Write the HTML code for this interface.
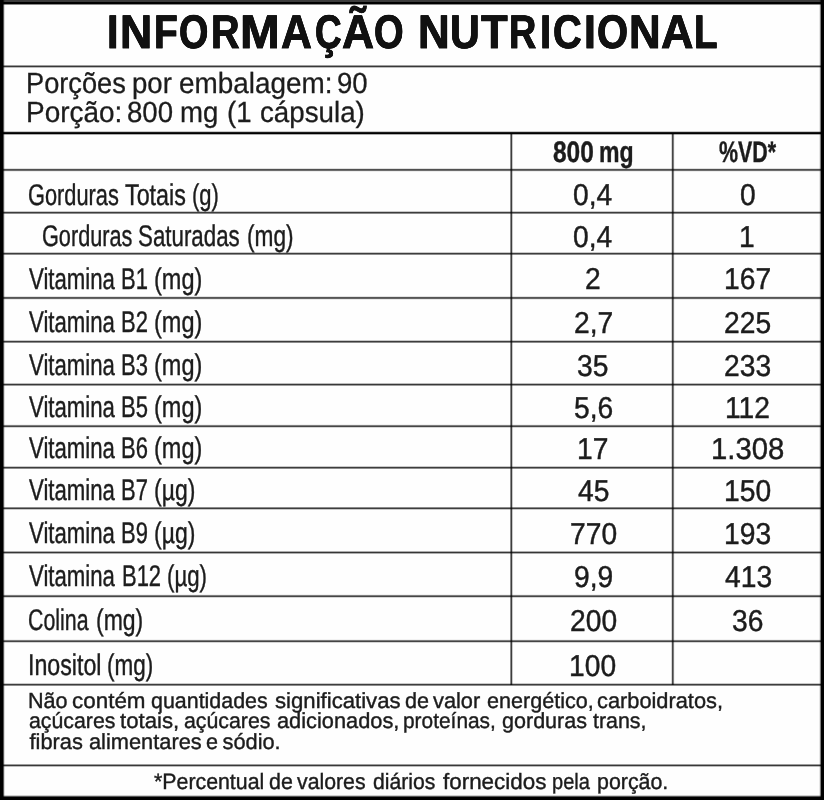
<!DOCTYPE html><html><head><meta charset="utf-8"><title>Informação Nutricional</title><style>
html,body{margin:0;padding:0;background:#fff}
#p{position:relative;width:824px;height:800px;overflow:hidden;background:#fefefe;font-family:"Liberation Sans",sans-serif}
.t{position:absolute;white-space:nowrap;line-height:1;transform-origin:0 0;display:block;text-rendering:geometricPrecision}
.l{position:absolute;mix-blend-mode:multiply}
.hl{left:0;width:824px;height:4px;background:linear-gradient(#9c9c9c 0 1px,#8a8a8a 1px 2px,#5e5e5e 2px 3px,#d0d0d0 3px 4px)}
.hk{left:0;width:824px;height:4px;background:linear-gradient(#d8d8d8 0 1px,#050505 1px 2px,#151515 2px 3px,#8a8a8a 3px 4px)}
.vl{top:134px;height:551px;width:4px;background:linear-gradient(90deg,#c8c8c8 0 1px,#999 1px 2px,#585858 2px 3px,#8c8c8c 3px 4px)}
</style></head><body><div id="p">
<div class="l" style="left:0;width:824px;top:65px;height:3px;background:linear-gradient(rgb(158,158,158) 0px 1px,rgb(56,56,56) 1px 2px,rgb(189,189,189) 2px 3px)"></div>
<div class="l" style="left:0;width:824px;top:131px;height:4px;background:linear-gradient(rgb(202,202,202) 0px 1px,rgb(26,26,26) 1px 2px,rgb(0,0,0) 2px 3px,rgb(173,173,173) 3px 4px)"></div>
<div class="l" style="left:0;width:824px;top:168px;height:4px;background:linear-gradient(rgb(224,224,224) 0px 1px,rgb(80,80,80) 1px 2px,rgb(109,109,109) 2px 3px,rgb(238,238,238) 3px 4px)"></div>
<div class="l" style="left:0;width:824px;top:211px;height:3px;background:linear-gradient(rgb(202,202,202) 0px 1px,rgb(61,61,61) 1px 2px,rgb(141,141,141) 2px 3px)"></div>
<div class="l" style="left:0;width:824px;top:252px;height:3px;background:linear-gradient(rgb(202,202,202) 0px 1px,rgb(61,61,61) 1px 2px,rgb(141,141,141) 2px 3px)"></div>
<div class="l" style="left:0;width:824px;top:296px;height:4px;background:linear-gradient(rgb(228,228,228) 0px 1px,rgb(86,86,86) 1px 2px,rgb(101,101,101) 2px 3px,rgb(235,235,235) 3px 4px)"></div>
<div class="l" style="left:0;width:824px;top:340px;height:3px;background:linear-gradient(rgb(202,202,202) 0px 1px,rgb(61,61,61) 1px 2px,rgb(141,141,141) 2px 3px)"></div>
<div class="l" style="left:0;width:824px;top:383px;height:3px;background:linear-gradient(rgb(189,189,189) 0px 1px,rgb(56,56,56) 1px 2px,rgb(158,158,158) 2px 3px)"></div>
<div class="l" style="left:0;width:824px;top:424px;height:4px;background:linear-gradient(rgb(243,243,243) 0px 1px,rgb(125,125,125) 1px 2px,rgb(69,69,69) 2px 3px,rgb(214,214,214) 3px 4px)"></div>
<div class="l" style="left:0;width:824px;top:466px;height:3px;background:linear-gradient(rgb(202,202,202) 0px 1px,rgb(61,61,61) 1px 2px,rgb(141,141,141) 2px 3px)"></div>
<div class="l" style="left:0;width:824px;top:507px;height:3px;background:linear-gradient(rgb(141,141,141) 0px 1px,rgb(61,61,61) 1px 2px,rgb(202,202,202) 2px 3px)"></div>
<div class="l" style="left:0;width:824px;top:551px;height:3px;background:linear-gradient(rgb(174,174,174) 0px 1px,rgb(54,54,54) 1px 2px,rgb(174,174,174) 2px 3px)"></div>
<div class="l" style="left:0;width:824px;top:594px;height:4px;background:linear-gradient(rgb(243,243,243) 0px 1px,rgb(125,125,125) 1px 2px,rgb(69,69,69) 2px 3px,rgb(214,214,214) 3px 4px)"></div>
<div class="l" style="left:0;width:824px;top:639px;height:4px;background:linear-gradient(rgb(243,243,243) 0px 1px,rgb(125,125,125) 1px 2px,rgb(69,69,69) 2px 3px,rgb(214,214,214) 3px 4px)"></div>
<div class="l" style="left:0;width:824px;top:683px;height:3px;background:linear-gradient(rgb(202,202,202) 0px 1px,rgb(61,61,61) 1px 2px,rgb(141,141,141) 2px 3px)"></div>
<div class="l" style="left:0;width:824px;top:764px;height:3px;background:linear-gradient(rgb(158,158,158) 0px 1px,rgb(56,56,56) 1px 2px,rgb(189,189,189) 2px 3px)"></div>
<div class="l" style="top:134px;height:551px;left:510px;width:3px;background:linear-gradient(90deg,rgb(141,141,141) 0px 1px,rgb(61,61,61) 1px 2px,rgb(202,202,202) 2px 3px)"></div>
<div class="l" style="top:134px;height:551px;left:671px;width:4px;background:linear-gradient(90deg,rgb(214,214,214) 0px 1px,rgb(69,69,69) 1px 2px,rgb(125,125,125) 2px 3px,rgb(243,243,243) 3px 4px)"></div>
<div class="l" style="left:0;top:0;width:824px;height:5px;background:linear-gradient(#3c3c3c 0 2px,#000 2px 4px,#8a8a8a 4px 5px)"></div>
<div class="l" style="left:0;top:795px;width:824px;height:5px;background:linear-gradient(#d0d0d0 0 1px,#555 1px 2px,#000 2px 5px)"></div>
<div class="l" style="left:0;top:0;width:5px;height:800px;background:linear-gradient(90deg,#000 0 3px,#555 3px 4px,#ddd 4px 5px)"></div>
<div class="l" style="left:819px;top:0;width:5px;height:800px;background:linear-gradient(90deg,#e8e8e8 0 1px,#808080 1px 2px,#000 2px 5px)"></div>
<div id="tx" style="position:absolute;left:0;top:0;width:824px;height:800px;filter:blur(0.45px)">
<div class="t" id="t0" style="left:107.30px;top:8.65px;font-size:47.2px;font-weight:700;color:#111;transform:scaleX(0.8828);-webkit-text-stroke:0.8px #111;text-shadow:0.3px 0 0 #111,-0.3px 0 0 #111">I</div>
<div class="t" id="t1" style="left:119.63px;top:8.65px;font-size:47.2px;font-weight:700;color:#111;transform:scaleX(0.9453);-webkit-text-stroke:0.8px #111;text-shadow:0.3px 0 0 #111,-0.3px 0 0 #111">N</div>
<div class="t" id="t2" style="left:153.91px;top:8.65px;font-size:47.2px;font-weight:700;color:#111;transform:scaleX(0.8254);-webkit-text-stroke:0.8px #111;text-shadow:0.3px 0 0 #111,-0.3px 0 0 #111">F</div>
<div class="t" id="t3" style="left:179.35px;top:8.65px;font-size:47.2px;font-weight:700;color:#111;transform:scaleX(0.8003);-webkit-text-stroke:0.8px #111;text-shadow:0.3px 0 0 #111,-0.3px 0 0 #111">O</div>
<div class="t" id="t4" style="left:211.48px;top:8.65px;font-size:47.2px;font-weight:700;color:#111;transform:scaleX(0.8387);-webkit-text-stroke:0.8px #111;text-shadow:0.3px 0 0 #111,-0.3px 0 0 #111">R</div>
<div class="t" id="t5" style="left:239.96px;top:8.65px;font-size:47.2px;font-weight:700;color:#111;transform:scaleX(1.0121);-webkit-text-stroke:0.8px #111;text-shadow:0.3px 0 0 #111,-0.3px 0 0 #111">M</div>
<div class="t" id="t6" style="left:281.09px;top:8.65px;font-size:47.2px;font-weight:700;color:#111;transform:scaleX(0.9062);-webkit-text-stroke:0.8px #111;text-shadow:0.3px 0 0 #111,-0.3px 0 0 #111">A</div>
<div class="t" id="t7" style="left:314.81px;top:8.65px;font-size:47.2px;font-weight:700;color:#111;transform:scaleX(0.7819);-webkit-text-stroke:0.8px #111;text-shadow:0.3px 0 0 #111,-0.3px 0 0 #111">Ç</div>
<div class="t" id="t8" style="left:341.51px;top:8.65px;font-size:47.2px;font-weight:700;color:#111;transform:scaleX(0.9404);-webkit-text-stroke:0.8px #111;text-shadow:0.3px 0 0 #111,-0.3px 0 0 #111">Ã</div>
<div class="t" id="t9" style="left:374.31px;top:8.65px;font-size:47.2px;font-weight:700;color:#111;transform:scaleX(0.8066);-webkit-text-stroke:0.8px #111;text-shadow:0.3px 0 0 #111,-0.3px 0 0 #111">O</div>
<div class="t" id="t10" style="left:417.67px;top:8.65px;font-size:47.2px;font-weight:700;color:#111;transform:scaleX(0.9317);-webkit-text-stroke:0.8px #111;text-shadow:0.3px 0 0 #111,-0.3px 0 0 #111">N</div>
<div class="t" id="t11" style="left:449.72px;top:8.65px;font-size:47.2px;font-weight:700;color:#111;transform:scaleX(0.8739);-webkit-text-stroke:0.8px #111;text-shadow:0.3px 0 0 #111,-0.3px 0 0 #111">U</div>
<div class="t" id="t12" style="left:481.49px;top:8.65px;font-size:47.2px;font-weight:700;color:#111;transform:scaleX(0.9246);-webkit-text-stroke:0.8px #111;text-shadow:0.3px 0 0 #111,-0.3px 0 0 #111">T</div>
<div class="t" id="t13" style="left:509.44px;top:8.65px;font-size:47.2px;font-weight:700;color:#111;transform:scaleX(0.8005);-webkit-text-stroke:0.8px #111;text-shadow:0.3px 0 0 #111,-0.3px 0 0 #111">R</div>
<div class="t" id="t14" style="left:539.85px;top:8.65px;font-size:47.2px;font-weight:700;color:#111;transform:scaleX(0.8569);-webkit-text-stroke:0.8px #111;text-shadow:0.3px 0 0 #111,-0.3px 0 0 #111">I</div>
<div class="t" id="t15" style="left:552.72px;top:8.65px;font-size:47.2px;font-weight:700;color:#111;transform:scaleX(0.8443);-webkit-text-stroke:0.8px #111;text-shadow:0.3px 0 0 #111,-0.3px 0 0 #111">C</div>
<div class="t" id="t16" style="left:583.72px;top:8.65px;font-size:47.2px;font-weight:700;color:#111;transform:scaleX(0.9056);-webkit-text-stroke:0.8px #111;text-shadow:0.3px 0 0 #111,-0.3px 0 0 #111">I</div>
<div class="t" id="t17" style="left:597.20px;top:8.65px;font-size:47.2px;font-weight:700;color:#111;transform:scaleX(0.8474);-webkit-text-stroke:0.8px #111;text-shadow:0.3px 0 0 #111,-0.3px 0 0 #111">O</div>
<div class="t" id="t18" style="left:628.70px;top:8.65px;font-size:47.2px;font-weight:700;color:#111;transform:scaleX(0.9310);-webkit-text-stroke:0.8px #111;text-shadow:0.3px 0 0 #111,-0.3px 0 0 #111">N</div>
<div class="t" id="t19" style="left:660.52px;top:8.65px;font-size:47.2px;font-weight:700;color:#111;transform:scaleX(0.9523);-webkit-text-stroke:0.8px #111;text-shadow:0.3px 0 0 #111,-0.3px 0 0 #111">A</div>
<div class="t" id="t20" style="left:693.95px;top:8.65px;font-size:47.2px;font-weight:700;color:#111;transform:scaleX(0.8160);-webkit-text-stroke:0.8px #111;text-shadow:0.3px 0 0 #111,-0.3px 0 0 #111">L</div>
<div class="t" id="i1_0" style="left:26.13px;top:70.40px;font-size:29.2px;font-weight:400;color:#1c1c1c;transform:scaleX(0.9327);-webkit-text-stroke:0.3px #1c1c1c">Porções</div>
<div class="t" id="i1_1" style="left:131.50px;top:70.40px;font-size:29.2px;font-weight:400;color:#1c1c1c;transform:scaleX(0.9450);-webkit-text-stroke:0.3px #1c1c1c">por</div>
<div class="t" id="i1_2" style="left:179.04px;top:70.40px;font-size:29.2px;font-weight:400;color:#1c1c1c;transform:scaleX(0.9554);-webkit-text-stroke:0.3px #1c1c1c">embalagem:</div>
<div class="t" id="i1_3" style="left:336.75px;top:70.40px;font-size:29.2px;font-weight:400;color:#1c1c1c;transform:scaleX(0.9450);-webkit-text-stroke:0.3px #1c1c1c">90</div>
<div class="t" id="i2_0" style="left:26.08px;top:99.29px;font-size:29.2px;font-weight:400;color:#1c1c1c;transform:scaleX(0.9583);-webkit-text-stroke:0.3px #1c1c1c">Porção:</div>
<div class="t" id="i2_1" style="left:127.38px;top:99.29px;font-size:29.2px;font-weight:400;color:#1c1c1c;transform:scaleX(0.9450);-webkit-text-stroke:0.3px #1c1c1c">800</div>
<div class="t" id="i2_2" style="left:179.62px;top:99.29px;font-size:29.2px;font-weight:400;color:#1c1c1c;transform:scaleX(0.9450);-webkit-text-stroke:0.3px #1c1c1c">mg</div>
<div class="t" id="i2_3" style="left:227.12px;top:99.29px;font-size:29.2px;font-weight:400;color:#1c1c1c;transform:scaleX(0.9450);-webkit-text-stroke:0.3px #1c1c1c">(1</div>
<div class="t" id="i2_4" style="left:260.29px;top:99.29px;font-size:29.2px;font-weight:400;color:#1c1c1c;transform:scaleX(0.9500);-webkit-text-stroke:0.3px #1c1c1c">cápsula)</div>
<div class="t" id="h1_0" style="left:552.59px;top:137.87px;font-size:29.7px;font-weight:700;color:#1c1c1c;transform:scaleX(0.8252);-webkit-text-stroke:0.4px #1c1c1c">800</div>
<div class="t" id="h1_1" style="left:599.40px;top:137.87px;font-size:29.7px;font-weight:700;color:#1c1c1c;transform:scaleX(0.7759);-webkit-text-stroke:0.4px #1c1c1c">mg</div>
<div class="t" id="h2" style="left:718.69px;top:137.87px;font-size:29.7px;font-weight:700;color:#1c1c1c;transform:scaleX(0.7215);-webkit-text-stroke:0.4px #1c1c1c">%VD*</div>
<div class="t" id="l0_0" style="left:28.21px;top:181.29px;font-size:29.9px;font-weight:400;color:#1c1c1c;transform:scaleX(0.7285);-webkit-text-stroke:0.42px #1c1c1c">Gorduras</div>
<div class="t" id="l0_1" style="left:125.00px;top:181.29px;font-size:29.9px;font-weight:400;color:#1c1c1c;transform:scaleX(0.7792);-webkit-text-stroke:0.42px #1c1c1c">Totais</div>
<div class="t" id="l0_2" style="left:191.75px;top:181.29px;font-size:29.9px;font-weight:400;color:#1c1c1c;transform:scaleX(0.7350);-webkit-text-stroke:0.42px #1c1c1c">(g)</div>
<div class="t" id="a0" style="left:572.50px;top:181.07px;font-size:30.2px;font-weight:400;color:#1c1c1c;transform:scaleX(0.9350);-webkit-text-stroke:0.45px #1c1c1c">0,4</div>
<div class="t" id="b0" style="left:739.50px;top:181.07px;font-size:30.2px;font-weight:400;color:#1c1c1c;transform:scaleX(0.9350);-webkit-text-stroke:0.45px #1c1c1c">0</div>
<div class="t" id="l1_0" style="left:42.22px;top:221.59px;font-size:29.9px;font-weight:400;color:#1c1c1c;transform:scaleX(0.7252);-webkit-text-stroke:0.42px #1c1c1c">Gorduras</div>
<div class="t" id="l1_1" style="left:138.07px;top:221.59px;font-size:29.9px;font-weight:400;color:#1c1c1c;transform:scaleX(0.7463);-webkit-text-stroke:0.42px #1c1c1c">Saturadas</div>
<div class="t" id="l1_2" style="left:246.85px;top:221.59px;font-size:29.9px;font-weight:400;color:#1c1c1c;transform:scaleX(0.7588);-webkit-text-stroke:0.42px #1c1c1c">(mg)</div>
<div class="t" id="a1" style="left:572.50px;top:223.07px;font-size:30.2px;font-weight:400;color:#1c1c1c;transform:scaleX(0.9350);-webkit-text-stroke:0.45px #1c1c1c">0,4</div>
<div class="t" id="b1" style="left:738.50px;top:223.07px;font-size:30.2px;font-weight:400;color:#1c1c1c;transform:scaleX(0.9350);-webkit-text-stroke:0.45px #1c1c1c">1</div>
<div class="t" id="l2_0" style="left:28.90px;top:265.39px;font-size:29.9px;font-weight:400;color:#1c1c1c;transform:scaleX(0.7419);-webkit-text-stroke:0.42px #1c1c1c">Vitamina</div>
<div class="t" id="l2_1" style="left:120.50px;top:265.39px;font-size:29.9px;font-weight:400;color:#1c1c1c;transform:scaleX(0.7350);-webkit-text-stroke:0.42px #1c1c1c">B1</div>
<div class="t" id="l2_2" style="left:154.29px;top:265.39px;font-size:29.9px;font-weight:400;color:#1c1c1c;transform:scaleX(0.7866);-webkit-text-stroke:0.42px #1c1c1c">(mg)</div>
<div class="t" id="a2" style="left:584.50px;top:265.37px;font-size:30.2px;font-weight:400;color:#1c1c1c;transform:scaleX(0.9350);-webkit-text-stroke:0.45px #1c1c1c">2</div>
<div class="t" id="b2" style="left:723.50px;top:265.37px;font-size:30.2px;font-weight:400;color:#1c1c1c;transform:scaleX(0.9350);-webkit-text-stroke:0.45px #1c1c1c">167</div>
<div class="t" id="l3_0" style="left:28.90px;top:307.99px;font-size:29.9px;font-weight:400;color:#1c1c1c;transform:scaleX(0.7419);-webkit-text-stroke:0.42px #1c1c1c">Vitamina</div>
<div class="t" id="l3_1" style="left:120.50px;top:307.99px;font-size:29.9px;font-weight:400;color:#1c1c1c;transform:scaleX(0.7350);-webkit-text-stroke:0.42px #1c1c1c">B2</div>
<div class="t" id="l3_2" style="left:154.29px;top:307.99px;font-size:29.9px;font-weight:400;color:#1c1c1c;transform:scaleX(0.7866);-webkit-text-stroke:0.42px #1c1c1c">(mg)</div>
<div class="t" id="a3" style="left:573.50px;top:309.27px;font-size:30.2px;font-weight:400;color:#1c1c1c;transform:scaleX(0.9350);-webkit-text-stroke:0.45px #1c1c1c">2,7</div>
<div class="t" id="b3" style="left:723.50px;top:309.27px;font-size:30.2px;font-weight:400;color:#1c1c1c;transform:scaleX(0.9350);-webkit-text-stroke:0.45px #1c1c1c">225</div>
<div class="t" id="l4_0" style="left:28.90px;top:350.99px;font-size:29.9px;font-weight:400;color:#1c1c1c;transform:scaleX(0.7419);-webkit-text-stroke:0.42px #1c1c1c">Vitamina</div>
<div class="t" id="l4_1" style="left:120.50px;top:350.99px;font-size:29.9px;font-weight:400;color:#1c1c1c;transform:scaleX(0.7350);-webkit-text-stroke:0.42px #1c1c1c">B3</div>
<div class="t" id="l4_2" style="left:154.29px;top:350.99px;font-size:29.9px;font-weight:400;color:#1c1c1c;transform:scaleX(0.7866);-webkit-text-stroke:0.42px #1c1c1c">(mg)</div>
<div class="t" id="a4" style="left:576.50px;top:352.07px;font-size:30.2px;font-weight:400;color:#1c1c1c;transform:scaleX(0.9350);-webkit-text-stroke:0.45px #1c1c1c">35</div>
<div class="t" id="b4" style="left:723.50px;top:352.07px;font-size:30.2px;font-weight:400;color:#1c1c1c;transform:scaleX(0.9350);-webkit-text-stroke:0.45px #1c1c1c">233</div>
<div class="t" id="l5_0" style="left:28.90px;top:393.29px;font-size:29.9px;font-weight:400;color:#1c1c1c;transform:scaleX(0.7419);-webkit-text-stroke:0.42px #1c1c1c">Vitamina</div>
<div class="t" id="l5_1" style="left:120.50px;top:393.29px;font-size:29.9px;font-weight:400;color:#1c1c1c;transform:scaleX(0.7350);-webkit-text-stroke:0.42px #1c1c1c">B5</div>
<div class="t" id="l5_2" style="left:154.29px;top:393.29px;font-size:29.9px;font-weight:400;color:#1c1c1c;transform:scaleX(0.7866);-webkit-text-stroke:0.42px #1c1c1c">(mg)</div>
<div class="t" id="a5" style="left:573.50px;top:393.87px;font-size:30.2px;font-weight:400;color:#1c1c1c;transform:scaleX(0.9350);-webkit-text-stroke:0.45px #1c1c1c">5,6</div>
<div class="t" id="b5" style="left:724.50px;top:393.87px;font-size:30.2px;font-weight:400;color:#1c1c1c;transform:scaleX(0.9350);-webkit-text-stroke:0.45px #1c1c1c">112</div>
<div class="t" id="l6_0" style="left:28.90px;top:434.29px;font-size:29.9px;font-weight:400;color:#1c1c1c;transform:scaleX(0.7419);-webkit-text-stroke:0.42px #1c1c1c">Vitamina</div>
<div class="t" id="l6_1" style="left:120.50px;top:434.29px;font-size:29.9px;font-weight:400;color:#1c1c1c;transform:scaleX(0.7350);-webkit-text-stroke:0.42px #1c1c1c">B6</div>
<div class="t" id="l6_2" style="left:154.29px;top:434.29px;font-size:29.9px;font-weight:400;color:#1c1c1c;transform:scaleX(0.7866);-webkit-text-stroke:0.42px #1c1c1c">(mg)</div>
<div class="t" id="a6" style="left:576.50px;top:435.47px;font-size:30.2px;font-weight:400;color:#1c1c1c;transform:scaleX(0.9350);-webkit-text-stroke:0.45px #1c1c1c">17</div>
<div class="t" id="b6" style="left:710.55px;top:435.47px;font-size:30.2px;font-weight:400;color:#1c1c1c;transform:scaleX(0.9699);-webkit-text-stroke:0.45px #1c1c1c">1.308</div>
<div class="t" id="l7_0" style="left:28.90px;top:475.59px;font-size:29.9px;font-weight:400;color:#1c1c1c;transform:scaleX(0.7419);-webkit-text-stroke:0.42px #1c1c1c">Vitamina</div>
<div class="t" id="l7_1" style="left:120.50px;top:475.59px;font-size:29.9px;font-weight:400;color:#1c1c1c;transform:scaleX(0.7350);-webkit-text-stroke:0.42px #1c1c1c">B7</div>
<div class="t" id="l7_2" style="left:154.32px;top:475.59px;font-size:29.9px;font-weight:400;color:#1c1c1c;transform:scaleX(0.7689);-webkit-text-stroke:0.42px #1c1c1c">(µg)</div>
<div class="t" id="a7" style="left:577.50px;top:477.37px;font-size:30.2px;font-weight:400;color:#1c1c1c;transform:scaleX(0.9350);-webkit-text-stroke:0.45px #1c1c1c">45</div>
<div class="t" id="b7" style="left:723.50px;top:477.37px;font-size:30.2px;font-weight:400;color:#1c1c1c;transform:scaleX(0.9350);-webkit-text-stroke:0.45px #1c1c1c">150</div>
<div class="t" id="l8_0" style="left:28.90px;top:518.59px;font-size:29.9px;font-weight:400;color:#1c1c1c;transform:scaleX(0.7419);-webkit-text-stroke:0.42px #1c1c1c">Vitamina</div>
<div class="t" id="l8_1" style="left:120.50px;top:518.59px;font-size:29.9px;font-weight:400;color:#1c1c1c;transform:scaleX(0.7350);-webkit-text-stroke:0.42px #1c1c1c">B9</div>
<div class="t" id="l8_2" style="left:154.32px;top:518.59px;font-size:29.9px;font-weight:400;color:#1c1c1c;transform:scaleX(0.7689);-webkit-text-stroke:0.42px #1c1c1c">(µg)</div>
<div class="t" id="a8" style="left:569.50px;top:520.17px;font-size:30.2px;font-weight:400;color:#1c1c1c;transform:scaleX(0.9350);-webkit-text-stroke:0.45px #1c1c1c">770</div>
<div class="t" id="b8" style="left:723.50px;top:520.17px;font-size:30.2px;font-weight:400;color:#1c1c1c;transform:scaleX(0.9350);-webkit-text-stroke:0.45px #1c1c1c">193</div>
<div class="t" id="l9_0" style="left:28.90px;top:562.49px;font-size:29.9px;font-weight:400;color:#1c1c1c;transform:scaleX(0.7419);-webkit-text-stroke:0.42px #1c1c1c">Vitamina</div>
<div class="t" id="l9_1" style="left:121.50px;top:562.49px;font-size:29.9px;font-weight:400;color:#1c1c1c;transform:scaleX(0.7350);-webkit-text-stroke:0.42px #1c1c1c">B12</div>
<div class="t" id="l9_2" style="left:167.48px;top:562.49px;font-size:29.9px;font-weight:400;color:#1c1c1c;transform:scaleX(0.7446);-webkit-text-stroke:0.42px #1c1c1c">(µg)</div>
<div class="t" id="a9" style="left:573.50px;top:562.57px;font-size:30.2px;font-weight:400;color:#1c1c1c;transform:scaleX(0.9350);-webkit-text-stroke:0.45px #1c1c1c">9,9</div>
<div class="t" id="b9" style="left:724.50px;top:562.57px;font-size:30.2px;font-weight:400;color:#1c1c1c;transform:scaleX(0.9350);-webkit-text-stroke:0.45px #1c1c1c">413</div>
<div class="t" id="l10_0" style="left:28.23px;top:605.99px;font-size:29.9px;font-weight:400;color:#1c1c1c;transform:scaleX(0.7143);-webkit-text-stroke:0.42px #1c1c1c">Colina</div>
<div class="t" id="l10_1" style="left:96.41px;top:605.99px;font-size:29.9px;font-weight:400;color:#1c1c1c;transform:scaleX(0.7692);-webkit-text-stroke:0.42px #1c1c1c">(mg)</div>
<div class="t" id="a10" style="left:569.50px;top:606.67px;font-size:30.2px;font-weight:400;color:#1c1c1c;transform:scaleX(0.9350);-webkit-text-stroke:0.45px #1c1c1c">200</div>
<div class="t" id="b10" style="left:731.50px;top:606.67px;font-size:30.2px;font-weight:400;color:#1c1c1c;transform:scaleX(0.9350);-webkit-text-stroke:0.45px #1c1c1c">36</div>
<div class="t" id="l11_0" style="left:28.02px;top:651.39px;font-size:29.9px;font-weight:400;color:#1c1c1c;transform:scaleX(0.7759);-webkit-text-stroke:0.42px #1c1c1c">Inositol</div>
<div class="t" id="l11_1" style="left:107.36px;top:651.39px;font-size:29.9px;font-weight:400;color:#1c1c1c;transform:scaleX(0.7520);-webkit-text-stroke:0.42px #1c1c1c">(mg)</div>
<div class="t" id="a11" style="left:568.50px;top:652.07px;font-size:30.2px;font-weight:400;color:#1c1c1c;transform:scaleX(0.9350);-webkit-text-stroke:0.45px #1c1c1c">100</div>
<div class="t" id="f1_0" style="left:27.62px;top:689.85px;font-size:21.8px;font-weight:400;color:#1c1c1c;transform:scaleX(0.9900);-webkit-text-stroke:0.4px #1c1c1c">Não</div>
<div class="t" id="f1_1" style="left:71.97px;top:689.85px;font-size:21.8px;font-weight:400;color:#1c1c1c;transform:scaleX(1.0291);-webkit-text-stroke:0.4px #1c1c1c">contém</div>
<div class="t" id="f1_2" style="left:151.02px;top:689.85px;font-size:21.8px;font-weight:400;color:#1c1c1c;transform:scaleX(0.9829);-webkit-text-stroke:0.4px #1c1c1c">quantidades</div>
<div class="t" id="f1_3" style="left:275.00px;top:689.85px;font-size:21.8px;font-weight:400;color:#1c1c1c;transform:scaleX(1.0163);-webkit-text-stroke:0.4px #1c1c1c">significativas</div>
<div class="t" id="f1_4" style="left:405.00px;top:689.85px;font-size:21.8px;font-weight:400;color:#1c1c1c;transform:scaleX(0.9900);-webkit-text-stroke:0.4px #1c1c1c">de</div>
<div class="t" id="f1_5" style="left:433.00px;top:689.85px;font-size:21.8px;font-weight:400;color:#1c1c1c;transform:scaleX(1.0000);-webkit-text-stroke:0.4px #1c1c1c">valor</div>
<div class="t" id="f1_6" style="left:486.50px;top:689.85px;font-size:21.8px;font-weight:400;color:#1c1c1c;transform:scaleX(0.9907);-webkit-text-stroke:0.4px #1c1c1c">energético,</div>
<div class="t" id="f1_7" style="left:597.00px;top:689.85px;font-size:21.8px;font-weight:400;color:#1c1c1c;transform:scaleX(1.0000);-webkit-text-stroke:0.4px #1c1c1c">carboidratos,</div>
<div class="t" id="f2_0" style="left:28.51px;top:710.05px;font-size:21.8px;font-weight:400;color:#1c1c1c;transform:scaleX(0.9770);-webkit-text-stroke:0.4px #1c1c1c">açúcares</div>
<div class="t" id="f2_1" style="left:120.48px;top:710.05px;font-size:21.8px;font-weight:400;color:#1c1c1c;transform:scaleX(1.0182);-webkit-text-stroke:0.4px #1c1c1c">totais,</div>
<div class="t" id="f2_2" style="left:184.02px;top:710.05px;font-size:21.8px;font-weight:400;color:#1c1c1c;transform:scaleX(0.9771);-webkit-text-stroke:0.4px #1c1c1c">açúcares</div>
<div class="t" id="f2_3" style="left:277.00px;top:710.05px;font-size:21.8px;font-weight:400;color:#1c1c1c;transform:scaleX(1.0000);-webkit-text-stroke:0.4px #1c1c1c">adicionados,</div>
<div class="t" id="f2_4" style="left:403.04px;top:710.05px;font-size:21.8px;font-weight:400;color:#1c1c1c;transform:scaleX(0.9580);-webkit-text-stroke:0.4px #1c1c1c">proteínas,</div>
<div class="t" id="f2_5" style="left:502.01px;top:710.05px;font-size:21.8px;font-weight:400;color:#1c1c1c;transform:scaleX(0.9883);-webkit-text-stroke:0.4px #1c1c1c">gorduras</div>
<div class="t" id="f2_6" style="left:593.00px;top:710.05px;font-size:21.8px;font-weight:400;color:#1c1c1c;transform:scaleX(0.9813);-webkit-text-stroke:0.4px #1c1c1c">trans,</div>
<div class="t" id="f3_0" style="left:29.50px;top:731.16px;font-size:21.8px;font-weight:400;color:#1c1c1c;transform:scaleX(1.0000);-webkit-text-stroke:0.4px #1c1c1c">fibras</div>
<div class="t" id="f3_1" style="left:88.50px;top:731.16px;font-size:21.8px;font-weight:400;color:#1c1c1c;transform:scaleX(1.0001);-webkit-text-stroke:0.4px #1c1c1c">alimentares</div>
<div class="t" id="f3_2" style="left:205.62px;top:731.16px;font-size:21.8px;font-weight:400;color:#1c1c1c;transform:scaleX(0.9900);-webkit-text-stroke:0.4px #1c1c1c">e</div>
<div class="t" id="f3_3" style="left:222.50px;top:731.16px;font-size:21.8px;font-weight:400;color:#1c1c1c;transform:scaleX(1.0000);-webkit-text-stroke:0.4px #1c1c1c">sódio.</div>
<div class="t" id="f4_0" style="left:154.01px;top:770.51px;font-size:22.2px;font-weight:400;color:#1c1c1c;transform:scaleX(0.9611);-webkit-text-stroke:0.4px #1c1c1c">*Percentual</div>
<div class="t" id="f4_1" style="left:268.75px;top:770.51px;font-size:22.2px;font-weight:400;color:#1c1c1c;transform:scaleX(0.9650);-webkit-text-stroke:0.4px #1c1c1c">de</div>
<div class="t" id="f4_2" style="left:297.48px;top:770.51px;font-size:22.2px;font-weight:400;color:#1c1c1c;transform:scaleX(0.9584);-webkit-text-stroke:0.4px #1c1c1c">valores</div>
<div class="t" id="f4_3" style="left:372.74px;top:770.51px;font-size:22.2px;font-weight:400;color:#1c1c1c;transform:scaleX(0.9542);-webkit-text-stroke:0.4px #1c1c1c">diários</div>
<div class="t" id="f4_4" style="left:442.75px;top:770.51px;font-size:22.2px;font-weight:400;color:#1c1c1c;transform:scaleX(1.0099);-webkit-text-stroke:0.4px #1c1c1c">fornecidos</div>
<div class="t" id="f4_5" style="left:551.63px;top:770.51px;font-size:22.2px;font-weight:400;color:#1c1c1c;transform:scaleX(0.9028);-webkit-text-stroke:0.4px #1c1c1c">pela</div>
<div class="t" id="f4_6" style="left:596.55px;top:770.51px;font-size:22.2px;font-weight:400;color:#1c1c1c;transform:scaleX(0.9635);-webkit-text-stroke:0.4px #1c1c1c">porção.</div>
</div>
</div></body></html>
